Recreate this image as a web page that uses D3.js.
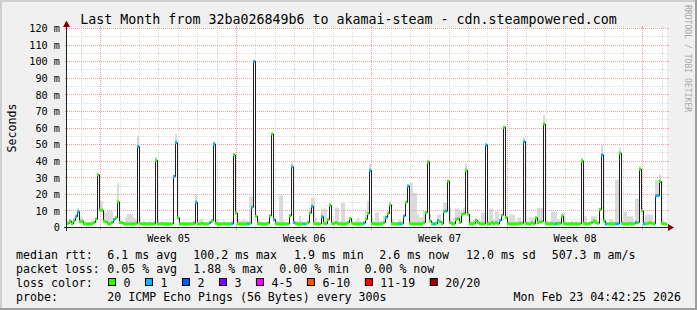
<!DOCTYPE html>
<html>
<head>
<meta charset="utf-8">
<script src="https://cdn.jsdelivr.net/npm/d3@7"></script>
<style>
  html, body { margin: 0; padding: 0; background: #f0f0f0; }
  svg { display: block; font-family: "DejaVu Sans Mono", monospace; }
</style>
</head>
<body>
<div id="chart"></div>
<script>
const width = 697,
    height = 310,
    plot = ({ left: 67, right: 667, top: 28.5, bottom: 227.5 });

// graph time range (local time), one month ending at the probe time
const startTime = new Date(2026, 0, 23, 6, 0, 0),
    endTime = new Date(2026, 1, 23, 6, 0, 0);

// median rtt per time bin, in ms (300 bins over the month)
const median = [
  2.5, 3.8, 2.2, 4, 6.5, 9.5, 3.5, 3.8, 2.2, 2.2,
  2.2, 2.2, 2.2, 3, 5, 31.8, 10.4, 10.4, 3.8, 3.4,
  2.2, 2.2, 3, 4.8, 5.8, 15.4, 3, 3, 2.2, 2.2,
  2.2, 2.2, 2.2, 2.2, 2.5, 48.8, 2.5, 2.2, 2.2, 2.2,
  2.2, 2.2, 2.2, 2.2, 40.5, 2.2, 2.2, 2.2, 2.2, 2.2,
  2.2, 2.2, 2.2, 30.8, 51.2, 5.8, 2.2, 2.2, 2.2, 2.2,
  2.2, 2.2, 2.2, 2.5, 15.2, 2.2, 2.2, 2.5, 2.2, 2.2,
  2.2, 3, 4, 50.4, 2.5, 2.2, 2.2, 2.2, 2.2, 2.2,
  2.2, 2.2, 2.2, 43.8, 8.8, 2.2, 2.2, 2.2, 2.2, 2.2,
  2.2, 2.5, 12.2, 100.2, 6.8, 2.2, 2.2, 2.2, 2.2, 2.2,
  2.5, 7, 56.4, 4.8, 2.2, 2.2, 2.2, 2.2, 2.2, 2.2,
  2.2, 7, 36.6, 3, 2.2, 2.2, 2.2, 2.2, 2.2, 2.2,
  3, 8.6, 12.8, 2.5, 2.2, 2.2, 2.2, 6.5, 2.5, 2.2,
  4.8, 13.4, 2.5, 2.2, 3, 2.2, 2.2, 2.2, 2.2, 2.2,
  3, 5.4, 2.5, 2.2, 2.2, 2.2, 2.2, 2.2, 2.6, 5,
  8.4, 34.4, 2.2, 2.2, 2.2, 2.2, 2.2, 2.2, 3, 6,
  8.4, 13.6, 2.2, 2.2, 2.2, 2.2, 2.2, 2.2, 6.8, 15.2,
  25, 2.5, 2.2, 2.2, 2.2, 2.2, 2.2, 2.2, 3, 9,
  39.5, 4, 2.2, 2.2, 2.2, 4.2, 3.5, 2.2, 9.8, 9.8,
  28, 3, 2.2, 2.2, 4.8, 5.4, 3, 7.8, 8.4, 34.4,
  8, 2.2, 2.2, 2.5, 4.2, 3, 2.2, 2.2, 2.2, 49.8,
  2.2, 2.2, 3, 2.2, 3, 2.2, 4.2, 7.4, 60.5, 6,
  2.2, 2.2, 2.2, 2.2, 2.2, 2.2, 2.5, 2.5, 51.8, 2.5,
  2.2, 2.2, 3, 2.2, 5.8, 3, 3.5, 3.5, 62.4, 2.5,
  2.2, 2.2, 2.5, 2.2, 2.2, 2.5, 2.5, 6.8, 2.5, 2.2,
  2.2, 2.2, 2.2, 2.2, 2.2, 2.2, 2.2, 40.2, 2.5, 2.2,
  2.2, 2.5, 3, 4, 3, 2.5, 10.8, 43.8, 4, 2.2,
  2.2, 2.2, 2.2, 2.2, 2.2, 2.2, 44.8, 2.5, 2.2, 2.2,
  2.2, 2.5, 2.2, 2.2, 3, 3, 35.2, 10, 2.2, 2.2,
  2.5, 3, 2.5, 2.2, 19.2, 19.2, 27.8, 2.5, 2.2, 2.2
];

// highest ping per time bin (top of the smoke), in ms
const smokeMax = [
  4, 5, 4, 6, 8, 11.8, 6, 6, 3, 3,
  3, 3, 4, 4, 6, 33, 15.8, 15.8, 10, 9,
  10, 10, 10, 6, 7, 27, 5, 4, 3, 6,
  8.4, 8.4, 8, 6, 5, 55.4, 6, 3, 4, 3,
  3, 4, 3, 4, 42.5, 4, 3, 4, 3, 3,
  3, 3, 3, 25.7, 56.4, 7, 3, 3, 3, 3,
  3, 3, 3, 4, 20.4, 3, 5, 5, 3, 3,
  3, 4, 5, 52, 5, 5, 3, 3, 4, 3,
  3, 3, 4, 45, 10, 5, 4, 4, 5, 4,
  4, 18.8, 18.8, 100.2, 8, 5, 4, 3, 3, 3,
  4, 8, 57, 6, 4, 4, 19.4, 19.4, 4, 3,
  3, 8, 39.4, 5, 4, 4, 7, 4, 3, 3,
  4, 12, 18, 18, 6, 4, 3, 11.4, 11.4, 11.4,
  6, 15, 4, 4, 12, 12, 4, 14.8, 14.8, 4,
  4, 6, 4, 3, 4, 6, 4, 3, 4, 10,
  16, 38.2, 6, 4, 9, 9, 4, 4, 7, 7,
  10, 15.8, 5, 4, 3, 4, 5, 4, 8, 16,
  25.8, 26.8, 26.8, 21, 21, 8, 6, 6, 10, 10,
  41, 8, 4, 3, 4, 7.8, 7.8, 4, 15, 15,
  28, 12, 4, 4, 11.4, 11.4, 9.8, 9.8, 12, 38.8,
  10, 4, 4, 5, 6, 5, 4, 9, 9, 50,
  4, 11.4, 11.4, 5, 9.6, 9.6, 5, 8, 61, 7,
  4, 7.8, 7.8, 7.8, 4, 6, 6, 4, 54.2, 4,
  4, 6, 6, 6, 7, 11.8, 11.8, 11.8, 67.8, 4,
  4, 4, 9.6, 9.6, 9.6, 5, 4, 8.8, 8.8, 4,
  3, 3, 4, 3, 4, 3, 3, 42.2, 6.8, 6.8,
  3, 4, 6.8, 6.8, 6.8, 4, 12, 49.8, 12.8, 4,
  3, 5, 5, 4, 28.8, 28.8, 48.2, 4, 9.6, 9.6,
  6.8, 6.8, 6.8, 4, 17.4, 17.4, 37, 12, 4, 7.8,
  7.8, 7.8, 7.8, 4, 28.8, 28.8, 32, 6, 4, 3
];

// bins where 1 of 20 pings was lost (all other bins: no loss)
const lossOne = [4, 5, 23, 35, 53, 54, 64, 71, 73, 82, 90, 92, 93, 103, 112, 113, 118,
  122, 127, 148, 151, 159, 166, 168, 170, 183, 185, 189, 209, 216, 228, 244, 267,
  269, 274, 275, 284, 288, 294, 295];

const yTicks = [0, 10, 20, 30, 40, 50, 60, 70, 80, 90, 100, 110, 120];
const yTickLabels = ["0", "10 m", "20 m", "30 m", "40 m", "50 m", "60 m", "70 m",
  "80 m", "90 m", "100 m", "110 m", "120 m"];
const weekLabels = ["Week 05", "Week 06", "Week 07", "Week 08"];

const lossLabels = ["0", "1", "2", "3", "4-5", "6-10", "11-19", "20/20"];
const lossColors = ["#26ff00", "#00b8ff", "#0059ff", "#7e00ff", "#ff00ff", "#ff5500", "#ff0000", "#a10000"];

const rttStats = ["6.1 ms avg", "100.2 ms max", "1.9 ms min", "2.6 ms now", "12.0 ms sd", "507.3 m am/s"];
const lossStats = ["0.05 % avg", "1.88 % max", "0.00 % min", "0.00 % now"];

// layout of the legend columns
const rttX = [107.3, 193.3, 294, 379.3, 466, 551.7],
    lossX = [107.3, 193.3, 279.3, 364.5],
    rowY = [258.5, 272.5, 286.5, 300.5];

const svg = d3.select("#chart")
    .append("svg")
    .attr("width", width)
    .attr("height", height)
    .attr("viewBox", [0, 0, width, height]);

// frame
svg.append("rect").attr("width", width).attr("height", height).attr("fill", "#f0f0f0");
svg.append("path").attr("d", `M0,${height}V0H${width}`).attr("fill", "none")
    .attr("stroke", "#cfcfcf").attr("stroke-width", 4);
svg.append("path").attr("d", `M0,${height}H${width}V0`).attr("fill", "none")
    .attr("stroke", "#9e9e9e").attr("stroke-width", 4);

let x = d3.scaleTime().domain([startTime, endTime]).range([plot.left, plot.right]);
let y = d3.scaleLinear().domain([0, 120]).range([plot.bottom, plot.top]);
const crisp = v => Math.floor(v) + 0.5;

svg.append("rect")
    .attr("x", plot.left).attr("y", 28)
    .attr("width", plot.right - plot.left).attr("height", 200)
    .attr("fill", "#fff");

const binMs = (endTime - startTime) / median.length;
const bins = median.map((m, i) => ({
    t0: new Date(+startTime + i * binMs),
    t1: new Date(+startTime + (i + 1) * binMs),
    med: m,
    max: smokeMax[i],
    loss: lossOne.includes(i) ? 1 : 0
}));

// smoke
svg.append("g").selectAll("rect")
    .data(bins.filter(d => d.max > d.med))
    .enter()
    .append("rect")
    .attr("x", d => x(d.t0))
    .attr("width", d => x(d.t1) - x(d.t0))
    .attr("y", d => y(d.max))
    .attr("height", d => y(d.med) - y(d.max))
    .attr("fill", "#dadada");

// grid
const grid = svg.append("g").attr("stroke-width", 1);
const minorY = d3.range(5, 121, 5).filter(v => v % 10 !== 0);
const majorY = yTicks.filter(v => v > 0);
const days = d3.timeDay.range(startTime, endTime);
const minorDays = days.filter(d => d.getDay() !== 0);
const sundays = d3.timeSunday.range(startTime, endTime);

function hLines(vals, color) {
    grid.selectAll(null).data(vals).enter().append("line")
        .attr("x1", plot.left).attr("x2", plot.right + 1)
        .attr("y1", d => crisp(y(d))).attr("y2", d => crisp(y(d)))
        .attr("stroke", color).attr("stroke-dasharray", "1,1");
    grid.selectAll(null).data(vals).enter().append("path")
        .attr("d", d => `M${plot.left - 2},${crisp(y(d))}h2M${plot.right},${crisp(y(d))}h2`)
        .attr("stroke", color);
}
function vLines(vals, color) {
    grid.selectAll(null).data(vals).enter().append("line")
        .attr("x1", d => crisp(x(d))).attr("x2", d => crisp(x(d)))
        .attr("y1", 28).attr("y2", 228)
        .attr("stroke", color).attr("stroke-dasharray", "1,1");
    grid.selectAll(null).data(vals).enter().append("path")
        .attr("d", d => `M${crisp(x(d))},228v2M${crisp(x(d))},26v2`)
        .attr("stroke", color);
}
hLines(minorY, "#dcdcdc");
vLines(minorDays, "#dcdcdc");
hLines(majorY, "#f2a0a0");
vLines(sundays, "#f2a0a0");

// median line
const line = d3.line()
    .x(d => x(new Date((+d.t0 + +d.t1) / 2)) + 0.5)
    .y(d => y(d.med))
    .curve(d3.curveStep);
svg.append("path")
    .datum(bins)
    .attr("d", line)
    .attr("fill", "none")
    .attr("stroke", "#202020")
    .attr("stroke-width", 1);

// loss colour bands on the median
svg.append("g").selectAll("rect")
    .data(bins)
    .enter()
    .append("rect")
    .attr("x", d => x(d.t0))
    .attr("width", d => x(d.t1) - x(d.t0))
    .attr("y", d => y(d.med + 0.9))
    .attr("height", d => y(d.med - 0.9) - y(d.med + 0.9))
    .attr("fill", d => lossColors[d.loss]);

// axes
const axis = svg.append("g").attr("shape-rendering", "crispEdges");
axis.append("line").attr("x1", plot.left - 3).attr("x2", plot.right + 5)
    .attr("y1", plot.bottom).attr("y2", plot.bottom).attr("stroke", "#222");
axis.append("line").attr("x1", plot.left - 0.5).attr("x2", plot.left - 0.5)
    .attr("y1", plot.bottom + 3).attr("y2", 23).attr("stroke", "#222");
svg.append("path")
    .attr("d", `M${plot.right + 1},${plot.bottom - 3.5}L${plot.right + 7},${plot.bottom}L${plot.right + 1},${plot.bottom + 3.5}Z`)
    .attr("fill", "#7f0000");
svg.append("path")
    .attr("d", `M${plot.left - 4},27L${plot.left - 0.5},20.5L${plot.left + 3},27Z`)
    .attr("fill", "#7f0000");

// y tick labels
svg.append("g").attr("font-size", 10.2).attr("text-anchor", "end")
    .selectAll("text")
    .data(yTicks)
    .enter()
    .append("text")
    .attr("x", 60)
    .attr("y", d => y(d) + 3.8)
    .text((d, i) => yTickLabels[i]);

// week labels, centred between the sunday lines
svg.append("g").attr("font-size", 10.2).attr("text-anchor", "middle")
    .selectAll("text")
    .data(weekLabels)
    .enter()
    .append("text")
    .attr("x", (d, i) => (x(sundays[i]) + x(sundays[i + 1])) / 2)
    .attr("y", 242)
    .text(d => d);

// title and unit
svg.append("text").attr("x", 348.5).attr("y", 24).attr("text-anchor", "middle")
    .attr("font-size", 13.3).text("Last Month from 32ba026849b6 to akamai-steam - cdn.steampowered.com");
svg.append("text").attr("transform", "translate(15.5,128) rotate(-90)")
    .attr("text-anchor", "middle").attr("font-size", 11.6).text("Seconds");
svg.append("text").attr("transform", "translate(685,5) rotate(90)")
    .attr("font-size", 8.1).attr("fill", "#a8a8a8").text("RRDTOOL / TOBI OETIKER");

// legend
const legend = svg.append("g").attr("font-size", 11.6).attr("fill", "#000");
legend.append("text").attr("x", 16).attr("y", rowY[0]).text("median rtt:");
legend.selectAll(null).data(rttStats).enter().append("text")
    .attr("x", (d, i) => rttX[i]).attr("y", rowY[0]).text(d => d);
legend.append("text").attr("x", 16).attr("y", rowY[1]).text("packet loss:");
legend.selectAll(null).data(lossStats).enter().append("text")
    .attr("x", (d, i) => lossX[i]).attr("y", rowY[1]).text(d => d);
legend.append("text").attr("x", 16).attr("y", rowY[2]).text("loss color:");
let lx = 108.5;
lossLabels.forEach((lab, i) => {
    legend.append("rect")
        .attr("x", lx).attr("y", rowY[2] - 8)
        .attr("width", 7).attr("height", 7)
        .attr("fill", lossColors[i]).attr("stroke", "#000");
    const t = legend.append("text").attr("x", lx + 15).attr("y", rowY[2]).text(lab);
    lx = lx + 15 + t.node().getComputedTextLength() + 15;
});
legend.append("text").attr("x", 16).attr("y", rowY[3]).text("probe:");
legend.append("text").attr("x", 107.3).attr("y", rowY[3]).text("20 ICMP Echo Pings (56 Bytes) every 300s");
legend.append("text").attr("x", 681).attr("y", rowY[3]).attr("text-anchor", "end")
    .text("Mon Feb 23 04:42:25 2026");
</script>
</body>
</html>
